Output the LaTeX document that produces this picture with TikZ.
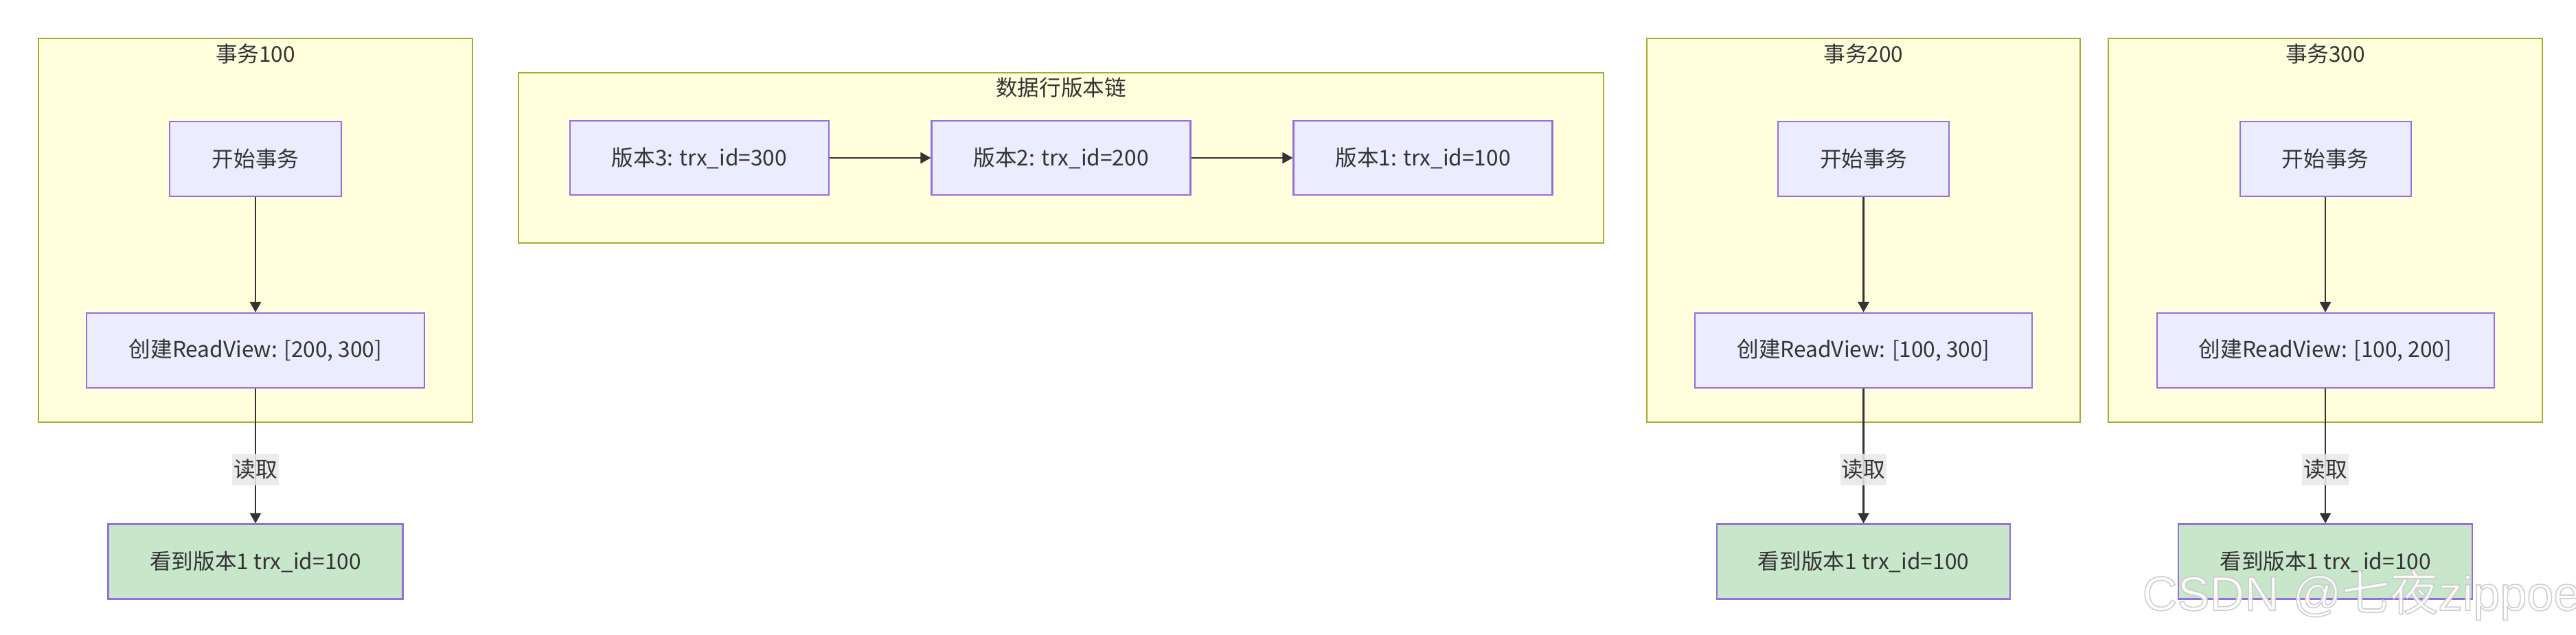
\documentclass[tikz,border=0pt]{standalone}
\usepackage{fontspec}
\setmainfont{Noto Sans CJK SC}
\newfontfamily\wmfont{Liberation Sans}
\newfontfamily\cjk{Noto Sans CJK SC}
\usetikzlibrary{arrows.meta,positioning}
\definecolor{groupfill}{HTML}{FFFFDE}
\definecolor{groupline}{HTML}{AAAA33}
\definecolor{nodefill}{HTML}{ECECFF}
\definecolor{nodeline}{HTML}{9370DB}
\definecolor{seenfill}{HTML}{C8E6C9}
\definecolor{ink}{HTML}{333333}
\definecolor{lblfill}{HTML}{E8E8E8}
\newcommand{\outlined}[1]{\special{pdf:literal direct 2 Tr 0.5 w 0.8 0.8 0.8 RG}#1\special{pdf:literal direct 0 Tr}}

\tikzset{
  group/.style={draw=groupline,fill=groupfill,line width=0.7pt},
  grouptitle/.style={font=\fontsize{9}{11}\selectfont,text=ink},
  stepbox/.style={draw=nodeline,fill=nodefill,line width=0.6pt,minimum height=1.09cm,
    inner sep=0pt,font=\fontsize{9}{11}\selectfont,text=ink},
  seenbox/.style={stepbox,fill=seenfill},
  flow/.style={draw=ink,line width=0.7pt,-{Triangle[length=0.15cm,width=0.16cm]}},
  edgelbl/.style={fill=lblfill,fill opacity=0.85,text opacity=1,inner xsep=0.02cm,
    inner ysep=0.08cm,font=\fontsize{9}{11}\selectfont,text=ink}
}

\begin{document}
\begin{tikzpicture}
  \fill[white] (0,0) rectangle (37.51,-9.24);
  \useasboundingbox (0,0) rectangle (37.51,-9.24);

  % Transaction 100
  \draw[group] (0.56,-0.56) rectangle (6.88,-6.15);
  \node[grouptitle] (titleA) at (3.72,-0.79) {事务100};
  \node[stepbox,minimum width=2.50cm] (beginA) at (3.72,-2.315) {开始事务};
  \node[stepbox,minimum width=4.92cm] (viewA) at (3.72,-5.105) {创建ReadView: [200, 300]};
  \node[seenbox,minimum width=4.29cm] (seenA) at (3.72,-8.18) {看到版本1 trx\_id=100};
  \draw[flow] (beginA) -- (viewA);
  \draw[flow] (viewA) -- node[edgelbl,pos=0.6] (readA) {读取} (seenA);

  % Version chain
  \draw[group] (7.55,-1.06) rectangle (23.35,-3.54);
  \node[grouptitle] (titleChain) at (15.45,-1.28) {数据行版本链};
  \node[stepbox,minimum width=3.77cm,minimum height=1.08cm] (ver3) at (10.185,-2.30) {版本3: trx\_id=300};
  \node[stepbox,minimum width=3.77cm,minimum height=1.08cm] (ver2) at (15.45,-2.30) {版本2: trx\_id=200};
  \node[stepbox,minimum width=3.77cm,minimum height=1.08cm] (ver1) at (20.72,-2.30) {版本1: trx\_id=100};
  \draw[flow] (ver3) -- (ver2);
  \draw[flow] (ver2) -- (ver1);

  % Transaction 200
  \draw[group] (23.98,-0.56) rectangle (30.29,-6.15);
  \node[grouptitle] (titleB) at (27.135,-0.79) {事务200};
  \node[stepbox,minimum width=2.49cm] (beginB) at (27.135,-2.315) {开始事务};
  \node[stepbox,minimum width=4.91cm] (viewB) at (27.135,-5.105) {创建ReadView: [100, 300]};
  \node[seenbox,minimum width=4.27cm] (seenB) at (27.135,-8.18) {看到版本1 trx\_id=100};
  \draw[flow] (beginB) -- (viewB);
  \draw[flow] (viewB) -- node[edgelbl,pos=0.6] (readB) {读取} (seenB);

  % Transaction 300
  \draw[group] (30.70,-0.56) rectangle (37.02,-6.15);
  \node[grouptitle] (titleC) at (33.86,-0.79) {事务300};
  \node[stepbox,minimum width=2.49cm] (beginC) at (33.86,-2.315) {开始事务};
  \node[stepbox,minimum width=4.91cm] (viewC) at (33.86,-5.105) {创建ReadView: [100, 200]};
  \node[seenbox,minimum width=4.28cm] (seenC) at (33.86,-8.18) {看到版本1 trx\_id=100};
  \draw[flow] (beginC) -- (viewC);
  \draw[flow] (viewC) -- node[edgelbl,pos=0.6] (readC) {读取} (seenC);

  % Watermark
  \node[anchor=base west,inner sep=0pt,text=white,fill opacity=0.9,text opacity=0.9,
    font=\fontsize{20}{22}\selectfont]
    (mark) at (31.19,-8.89) {\outlined{\wmfont CSDN @\cjk 七夜\wmfont zippoe}};
\end{tikzpicture}
\end{document}
